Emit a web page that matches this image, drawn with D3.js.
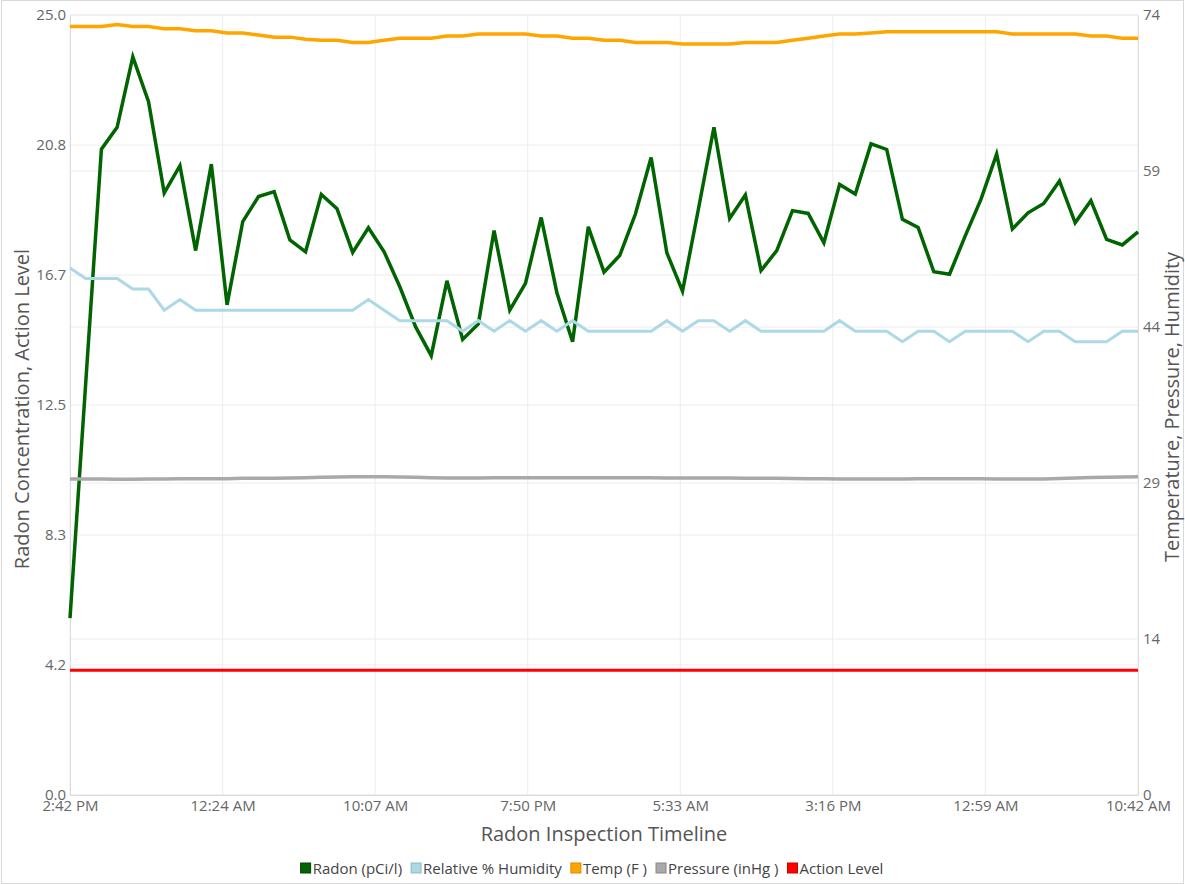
<!DOCTYPE html>
<html>
<head>
<meta charset="utf-8">
<script src="https://cdn.jsdelivr.net/npm/d3@7"></script>
<style>
  body { margin: 0; background: #fff; }
  #chart svg { display: block; }
  .tick text { fill: #666; font-family: "Open Sans", sans-serif; font-size: 15px; }
</style>
</head>
<body>
<div id="chart"></div>
<script>
// chart size and plot area
const width = 1185;
const height = 884;
const margin = { top: 15, right: 47, bottom: 89, left: 70 };

// readings, one per hour starting 2:42 PM
const radon = [5.67, 13.2, 20.70, 21.40, 23.66, 22.22, 19.30, 20.17, 17.45, 20.22,
  15.71, 18.38, 19.18, 19.34, 17.79, 17.41, 19.25, 18.79, 17.39, 18.18,
  17.41, 16.29, 15.01, 14.08, 16.48, 14.60, 15.10, 18.09, 15.54, 16.40,
  18.51, 16.10, 14.53, 18.21, 16.76, 17.29, 18.62, 20.43, 17.38, 16.15,
  18.75, 21.40, 18.48, 19.23, 16.81, 17.45, 18.73, 18.64, 17.70, 19.57,
  19.26, 20.87, 20.69, 18.45, 18.19, 16.77, 16.69, 17.92, 19.09, 20.54,
  18.14, 18.66, 18.96, 19.68, 18.34, 19.05, 17.81, 17.63, 18.05];

const humidity = [50, 49, 49, 49, 48, 48, 46, 47, 46, 46,
  46, 46, 46, 46, 46, 46, 46, 46, 46, 47,
  46, 45, 45, 45, 45, 44, 45, 44, 45, 44,
  45, 44, 45, 44, 44, 44, 44, 44, 45, 44,
  45, 45, 44, 45, 44, 44, 44, 44, 44, 45,
  44, 44, 44, 43, 44, 44, 43, 44, 44, 44,
  44, 43, 44, 44, 43, 43, 43, 44, 44];

const temp = [72.9, 72.9, 72.9, 73.1, 72.9, 72.9, 72.7, 72.7, 72.5, 72.5,
  72.3, 72.3, 72.1, 71.9, 71.9, 71.7, 71.6, 71.6, 71.4, 71.4,
  71.6, 71.8, 71.8, 71.8, 72.0, 72.0, 72.2, 72.2, 72.2, 72.2,
  72.0, 72.0, 71.8, 71.8, 71.6, 71.6, 71.4, 71.4, 71.4, 71.25,
  71.25, 71.25, 71.25, 71.4, 71.4, 71.4, 71.6, 71.8, 72.0, 72.2,
  72.2, 72.3, 72.4, 72.4, 72.4, 72.4, 72.4, 72.4, 72.4, 72.4,
  72.2, 72.2, 72.2, 72.2, 72.2, 72.0, 72.0, 71.8, 71.8];

const pressure = [29.97, 29.97, 29.97, 29.96, 29.96, 29.97, 29.97,
  30.0, 30.0, 30.0, 30.0, 30.05, 30.05, 30.05,
  30.08, 30.1, 30.15, 30.18, 30.2, 30.2, 30.2,
  30.18, 30.15, 30.1, 30.08, 30.07, 30.07, 30.1,
  30.1, 30.1, 30.1, 30.1, 30.1, 30.1, 30.1,
  30.1, 30.1, 30.1, 30.08, 30.08, 30.08, 30.08,
  30.08, 30.06, 30.05, 30.04, 30.02, 30.0, 30.0,
  29.98, 29.98, 29.98, 29.98, 29.98, 30.0, 30.0,
  30.0, 30.0, 30.0, 29.98, 29.98, 29.98, 29.98,
  30.02, 30.08, 30.12, 30.15, 30.18, 30.2];

const actionLevel = 4.0;

// axis labels
const xTickLabels = ["2:42 PM", "12:24 AM", "10:07 AM", "7:50 PM", "5:33 AM", "3:16 PM", "12:59 AM", "10:42 AM"];
const leftTickLabels = ["0.0", "4.2", "8.3", "12.5", "16.7", "20.8", "25.0"];
const rightTickLabels = ["0", "14", "29", "44", "59", "74"];

const legendItems = [
  { name: "Radon (pCi/l)", color: "#006400", border: "#004400" },
  { name: "Relative % Humidity", color: "#add8e6", border: "#8fb8c6" },
  { name: "Temp (F )", color: "#ffa500", border: "#d88c00" },
  { name: "Pressure (inHg )", color: "#a9a9a9", border: "#888" },
  { name: "Action Level", color: "#ff0000", border: "#cc0000" }
];

const hours = radon.map((d, i) => i);
const lastHour = hours.length - 1;

const svg = d3.select("#chart")
  .append("svg")
  .attr("width", width)
  .attr("height", height);

// outer frame
svg.append("rect")
  .attr("x", 1.5).attr("y", 0.5)
  .attr("width", width - 3).attr("height", height - 1)
  .attr("fill", "none")
  .attr("stroke", "#d9d9d9");

const x = d3.scaleLinear()
  .domain([0, lastHour])
  .range([margin.left, width - margin.right]);

const yLeft = d3.scaleLinear()
  .domain([0, 25])
  .range([height - margin.bottom, margin.top]);

const yRight = d3.scaleLinear()
  .domain([0, 74])
  .range([height - margin.bottom, margin.top]);

const xTicks = xTickLabels.map((d, i) => i * lastHour / (xTickLabels.length - 1));
const leftTicks = leftTickLabels.map((d, i) => i * 25 / (leftTickLabels.length - 1));
const rightTicks = rightTickLabels.map((d, i) => i * 74 / (rightTickLabels.length - 1));

// gridlines
const grid = svg.append("g").attr("class", "grid");
grid.selectAll(".gl")
  .data(leftTicks)
  .enter().append("line")
  .attr("x1", x(0)).attr("x2", x(lastHour))
  .attr("y1", d => yLeft(d)).attr("y2", d => yLeft(d))
  .attr("stroke", "#ececec");
grid.selectAll(".gr")
  .data(rightTicks)
  .enter().append("line")
  .attr("x1", x(0)).attr("x2", x(lastHour))
  .attr("y1", d => yRight(d)).attr("y2", d => yRight(d))
  .attr("stroke", "#ececec");
grid.selectAll(".gx")
  .data(xTicks)
  .enter().append("line")
  .attr("x1", d => x(d)).attr("x2", d => x(d))
  .attr("y1", yLeft(0)).attr("y2", yLeft(25))
  .attr("stroke", "#ececec");

// axes
const xAxis = svg.append("g")
  .attr("transform", `translate(0,${height - margin.bottom})`)
  .call(d3.axisBottom(x)
    .tickValues(xTicks)
    .tickSize(0)
    .tickPadding(5)
    .tickFormat((d, i) => xTickLabels[i]));

const leftAxis = svg.append("g")
  .attr("transform", `translate(${margin.left},0)`)
  .call(d3.axisLeft(yLeft)
    .tickValues(leftTicks)
    .tickSize(0)
    .tickPadding(4)
    .tickFormat((d, i) => leftTickLabels[i]));

const rightAxis = svg.append("g")
  .attr("transform", `translate(${width - margin.right},0)`)
  .call(d3.axisRight(yRight)
    .tickValues(rightTicks)
    .tickSize(0)
    .tickPadding(5)
    .tickFormat((d, i) => rightTickLabels[i]));

[xAxis, leftAxis, rightAxis].forEach(a => a.select(".domain").attr("stroke", "#dcdcdc"));

// series lines
const series = [
  { values: radon, scale: yLeft, color: "#006400", w: 3.5 },
  { values: humidity, scale: yRight, color: "#add8e6", w: 3 },
  { values: temp, scale: yRight, color: "#ffa500", w: 3.5 },
  { values: pressure, scale: yRight, color: "#a9a9a9", w: 3.5 },
  { values: hours.map(() => actionLevel), scale: yLeft, color: "#ff0000", w: 3 }
];

series.forEach(s => {
  const line = d3.line()
    .x((d, i) => x(hours[i]))
    .y(d => s.scale(d));
  svg.append("path")
    .datum(s.values)
    .attr("d", line)
    .attr("fill", "none")
    .attr("stroke", s.color)
    .attr("stroke-width", s.w);
});

// axis titles
const titleStyle = sel => sel
  .attr("fill", "#555")
  .attr("font-family", "'Open Sans', sans-serif")
  .attr("font-size", 20)
  .attr("text-anchor", "middle");

svg.append("text")
  .attr("x", (x(0) + x(lastHour)) / 2)
  .attr("y", 841)
  .text("Radon Inspection Timeline")
  .call(titleStyle);

svg.append("text")
  .attr("transform", `translate(29,${(yLeft(0) + yLeft(25)) / 2 + 4}) rotate(-90)`)
  .text("Radon Concentration, Action Level")
  .call(titleStyle);

svg.append("text")
  .attr("transform", `translate(1179,${(yLeft(0) + yLeft(25)) / 2 + 2}) rotate(-90)`)
  .text("Temperature, Pressure, Humidity")
  .call(titleStyle);

// legend
const legend = svg.append("g");
let lx = 0;
legendItems.forEach(item => {
  const g = legend.append("g").attr("transform", `translate(${lx},0)`);
  g.append("rect")
    .attr("x", 0).attr("y", -11)
    .attr("width", 10).attr("height", 10)
    .attr("fill", item.color)
    .attr("stroke", item.border);
  const t = g.append("text")
    .attr("x", 12)
    .attr("y", 0)
    .attr("fill", "#444")
    .attr("font-family", "'Open Sans', sans-serif")
    .attr("font-size", 15)
    .text(item.name);
  lx += 12 + t.node().getComputedTextLength() + 9;
});
legend.attr("transform", `translate(${592 - (lx - 9) / 2},874)`);
</script>
</body>
</html>
